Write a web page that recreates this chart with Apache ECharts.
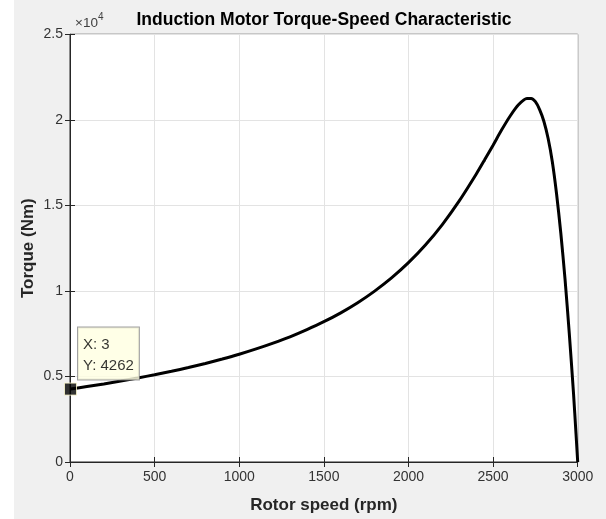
<!DOCTYPE html>
<html>
<head>
<meta charset="utf-8">
<script src="https://cdn.jsdelivr.net/npm/echarts@6/dist/echarts.min.js"></script>
<style>
html,body{margin:0;padding:0;background:#fff;}
#chart{width:606px;height:519px;}
</style>
</head>
<body>
<div id="chart"></div>
<script>
// Data
var speed = [3,100,200,300,400,500,600,700,800,900,1000,1100,1200,1300,1400,1500,1600,1700,1800,1900,2000,2100,2200,2300,2400,2450,2500,2550,2600,2650,2700,2725,2750,2775,2800,2825,2850,2875,2900,2925,2950,2975,2990,3000];
var torque = [4262,4410,4565,4730,4910,5100,5300,5520,5760,6020,6300,6610,6950,7320,7740,8200,8720,9310,9990,10760,11650,12680,13880,15260,16820,17660,18520,19400,20210,20880,21250,21250,21060,20600,19920,18920,17550,15680,13400,10700,7550,4050,1650,0];
var xTicks = ['0','500','1000','1500','2000','2500','3000'];
var yTicks = ['0','0.5','1','1.5','2','2.5'];
var tipX = 3, tipY = 4262;

var font = 'Liberation Sans, Arial, Helvetica, sans-serif';
var axisCol = '#262626';
var lineData = speed.map(function(s,i){return [s, torque[i]];});

var chart = echarts.init(document.getElementById('chart'), null, {renderer:'canvas'});
var baseAxis = {
  axisLine:{show:true, lineStyle:{color:axisCol, width:1}},
  axisTick:{show:true, inside:true, length:5, lineStyle:{color:axisCol}},
};
chart.setOption({
  animation:false,
  backgroundColor:'#f0f0f0',
  graphic:[
    {type:'rect', left:0, top:0, shape:{width:14, height:519}, style:{fill:'#ffffff'}, z:-10, silent:true},
    {type:'text', left:75, top:12, z:10, style:{
      text:'{a|×10}{b|4}', fill:'#404040',
      rich:{a:{fontSize:13.5, fontFamily:font, fill:'#404040', verticalAlign:'bottom'}, b:{fontSize:10, fontFamily:font, fill:'#404040', verticalAlign:'top', padding:[0,0,8,0]}}
    }},
    {type:'text', x:324, y:20, z:10, style:{
      text:'Induction Motor Torque-Speed Characteristic',
      fontFamily:font, fontSize:17.5, fontWeight:'bold', fill:'#000',
      align:'center', verticalAlign:'middle'
    }}
  ],
  grid:{left:70, right:28.3, top:34.3, bottom:56.3, show:true, backgroundColor:'#ffffff', borderColor:axisCol, borderWidth:1},
  xAxis:[
    Object.assign({}, baseAxis, {
      type:'value', min:0, max:3000, interval:500, position:'bottom',
      name:'Rotor speed (rpm)', nameLocation:'middle', nameGap:35, nameMoveOverlap:false,
      nameTextStyle:{fontFamily:font, fontSize:17, fontWeight:'bold', color:'#262626'},
      axisLabel:{fontFamily:font, fontSize:14, color:'#333', margin:8,
        formatter:function(v){return xTicks[Math.round(v/500)];}},
      splitLine:{show:true, lineStyle:{color:'#e3e3e3', width:1}}
    }),
    Object.assign({}, baseAxis, {
      type:'value', min:0, max:3000, interval:500, position:'top',
      axisLabel:{show:false}, splitLine:{show:false}
    })
  ],
  yAxis:[
    Object.assign({}, baseAxis, {
      type:'value', min:0, max:25000, interval:5000, position:'left',
      name:'Torque (Nm)', nameLocation:'middle', nameGap:33, nameRotate:90, nameMoveOverlap:false,
      nameTextStyle:{fontFamily:font, fontSize:17, fontWeight:'bold', color:'#262626'},
      axisLabel:{fontFamily:font, fontSize:14, color:'#333', margin:7,
        formatter:function(v){return yTicks[Math.round(v/5000)];}},
      splitLine:{show:true, lineStyle:{color:'#e3e3e3', width:1}}
    }),
    Object.assign({}, baseAxis, {
      type:'value', min:0, max:25000, interval:5000, position:'right',
      axisLabel:{show:false}, splitLine:{show:false}
    })
  ],
  series:[
    {
      type:'line', xAxisIndex:0, yAxisIndex:0, data:lineData,
      showSymbol:false, smooth:0.25,
      lineStyle:{color:'#000', width:3}, z:3, silent:true
    },
    {
      type:'scatter', xAxisIndex:0, yAxisIndex:0, data:[[tipX, tipY]],
      symbol:'rect', symbolSize:12,
      itemStyle:{color:'#000', borderColor:'#fffbd0', borderWidth:1},
      z:5, silent:true,
      label:{
        show:true, position:[14, -55],
        formatter:function(){return 'X: ' + tipX + '\nY: ' + tipY;},
        fontFamily:font, fontSize:15, color:'#000', lineHeight:21,
        backgroundColor:'#ffffe1', borderColor:'#8a8a8a', borderWidth:1,
        padding:[7,5,3,5], align:'left', verticalAlign:'top'
      }
    }
  ]
});
</script>
</body>
</html>
